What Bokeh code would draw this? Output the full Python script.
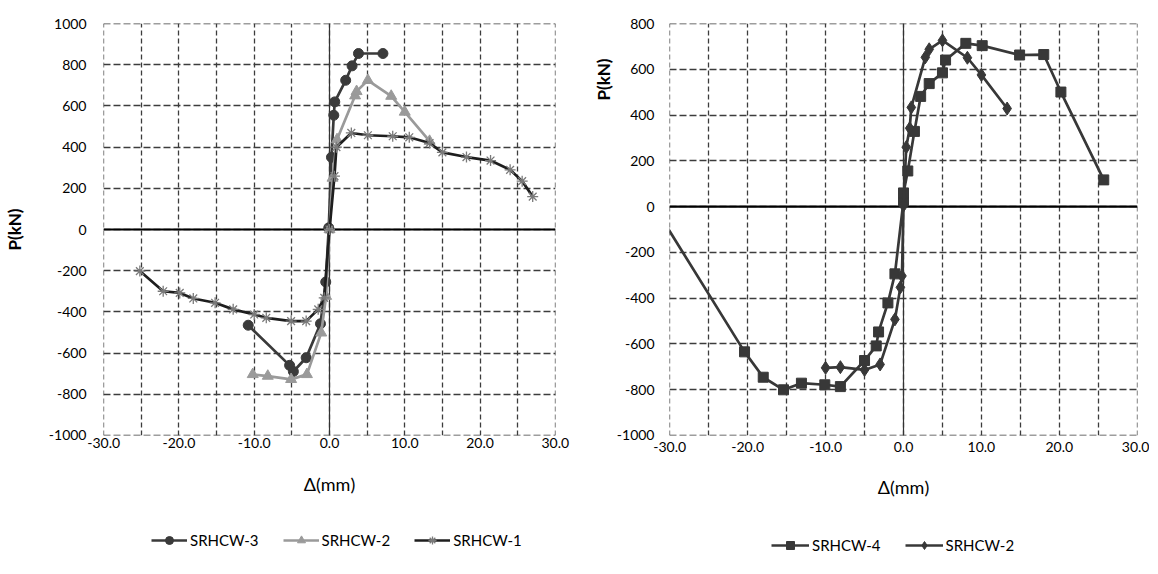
from bokeh.plotting import figure
from bokeh.layouts import row, column
from bokeh.models import FixedTicker, Span, Legend, LegendItem, Title, Range1d
from bokeh.embed import file_html
from bokeh.resources import INLINE

# ---------------- data ----------------
x_tick_values = [-30, -20, -10, 0, 10, 20, 30]
x_tick_labels = ["-30.0", "-20.0", "-10.0", "0.0", "10.0", "20.0", "30.0"]
x_grid_values = [-30, -25, -20, -15, -10, -5, 0, 5, 10, 15, 20, 25, 30]
left_y_ticks = [-1000, -800, -600, -400, -200, 0, 200, 400, 600, 800, 1000]
right_y_ticks = [-1000, -800, -600, -400, -200, 0, 200, 400, 600, 800]

# left chart
srhcw3_x = [-10.8, -5.3, -4.8, -3.1, -1.2, -0.5, -0.1, 0.26, 0.57, 0.7, 2.15, 3.0, 3.85, 7.1]
srhcw3_p = [-465, -660, -690, -623, -458, -255, 8, 351, 555, 620, 725, 795, 855, 855]

srhcw2a_x = [-10.2, -8.2, -5.1, -3.0, -1.1, -0.45, 0.0, 0.4, 1.0, 3.4, 3.6, 5.1, 8.2, 10.0, 13.3]
srhcw2a_p = [-704, -712, -728, -704, -502, -324, 0, 250, 437, 650, 671, 725, 648, 571, 429]

srhcw1_x = [-25.2, -22.1, -19.9, -18.1, -15.2, -12.8, -10.0, -8.4, -5.1, -3.1, -1.5, -0.7, 0.0,
            0.66, 0.92, 2.9, 5.1, 8.4, 10.6, 13.3, 15.0, 18.2, 21.4, 24.0, 25.6, 27.0]
srhcw1_p = [-202, -300, -308, -335, -356, -388, -413, -429, -445, -445, -388, -332, 0,
            259, 400, 469, 458, 453, 448, 420, 375, 352, 335, 290, 235, 160]

# right chart
srhcw4_x = [-32.0, -20.4, -18.0, -15.4, -13.1, -10.1, -8.1, -5.0, -3.5, -3.2, -2.0, -1.1, 0.0, 0.0,
            0.55, 1.4, 2.2, 3.3, 5.0, 5.4, 8.0, 10.1, 14.9, 18.0, 20.2, 25.7]
srhcw4_p = [2, -635, -746, -801, -772, -779, -787, -673, -609, -548, -421, -294, 25, 60,
            156, 329, 482, 538, 585, 641, 714, 704, 663, 665, 501, 117]

srhcw2b_x = [-10.0, -8.1, -5.0, -3.0, -1.1, -0.4, -0.2, 0.0, 0.35, 0.8, 1.0, 2.8, 3.3, 5.0, 8.2, 10.0, 13.3]
srhcw2b_p = [-705, -702, -714, -690, -493, -353, -303, 5, 260, 343, 434, 653, 688, 727, 651, 576, 429]

FONT = "Lato"
GRID = "#3c3c3c"
H_CHART = 505
H_LEG = 69

c3 = "#3a3a3a"
c2 = "#9a9a9a"
c1 = "#1e1e1e"
c1m = "#7a7a7a"
cr = "#383838"


def make(width, bl, br, ymin, ymax, yticks, ylab_std, xlab_std):
    p = figure(width=width, height=H_CHART,
               x_range=Range1d(-30.03, 30.03), y_range=Range1d(ymin - 0.8, ymax + 0.8),
               output_backend="svg", toolbar_location=None,
               min_border_left=bl, min_border_right=br, min_border_top=23, min_border_bottom=H_CHART - 435)
    p.outline_line_color = None
    p.xaxis.ticker = FixedTicker(ticks=x_tick_values)
    p.xaxis.major_label_overrides = {v: l for v, l in zip(x_tick_values, x_tick_labels)}
    p.yaxis.ticker = FixedTicker(ticks=yticks)
    p.yaxis.major_label_overrides = {v: str(v) for v in yticks}
    for ax in p.axis:
        ax.axis_line_color = None
        ax.major_tick_line_color = None
        ax.minor_tick_line_color = None
        ax.major_tick_out = 0
        ax.major_tick_in = 0
        ax.major_label_text_font = FONT
        ax.major_label_text_font_size = "14px"
        ax.major_label_text_color = "#000000"
        ax.axis_label_text_font = FONT
        ax.axis_label_text_color = "#000000"
    p.yaxis.major_label_standoff = ylab_std
    p.xaxis.major_label_standoff = xlab_std
    p.xgrid.ticker = FixedTicker(ticks=x_grid_values)
    p.ygrid.ticker = FixedTicker(ticks=yticks)
    p.xgrid.grid_line_color = GRID
    p.xgrid.grid_line_dash = "5 3"
    p.xgrid.grid_line_width = 1.3
    p.ygrid.grid_line_color = GRID
    p.ygrid.grid_line_dash = "7 3"
    p.ygrid.grid_line_width = 1.6
    p.add_layout(Span(location=0, dimension="width", line_color="#000000", line_width=2.2, level="underlay"))
    p.add_layout(Span(location=0, dimension="height", line_color="#333333", line_width=1.2, level="underlay"))
    p.xaxis.axis_label = "Δ(mm)"
    p.xaxis.axis_label_text_font_size = "18px"
    p.xaxis.axis_label_text_font_style = "normal"
    return p


def legend_fig(width, bl, br):
    q = figure(width=width, height=H_LEG, x_range=Range1d(1000, 1001), y_range=Range1d(5000, 5001),
               output_backend="svg", toolbar_location=None, x_axis_location=None, y_axis_location=None,
               min_border_left=bl, min_border_right=br, min_border_top=0, min_border_bottom=0)
    q.outline_line_color = None
    q.xgrid.visible = False
    q.ygrid.visible = False
    return q


def add_series(fig, xs, ps, color, marker, msize, mline=None, mfill=True):
    ln = fig.line(xs, ps, line_color=color, line_width=2.7)
    if mfill:
        mk = fig.scatter(xs, ps, marker=marker, size=msize, fill_color=color, line_color=color)
    else:
        mk = fig.scatter(xs, ps, marker=marker, size=msize, line_color=mline, line_width=1.3)
    return [ln, mk]


def legend(items, loc, gw):
    return Legend(items=items, orientation="horizontal", location=loc, padding=0, margin=0, spacing=24,
                  glyph_width=gw, glyph_height=20, label_standoff=3,
                  label_text_font=FONT, label_text_font_size="15px", label_text_color="#000000",
                  border_line_color=None, background_fill_alpha=0)


# ---------------- left chart ----------------
p1 = make(590, 101, 35, -1000, 1000, left_y_ticks, 17, 2)
p1.xaxis.axis_label_standoff = 22
p1.yaxis.axis_label = "P(kN)"
p1.yaxis.axis_label_text_font_size = "17px"
p1.yaxis.axis_label_text_font_style = "bold"
p1.yaxis.axis_label_standoff = 21

add_series(p1, srhcw3_x, srhcw3_p, c3, "circle", 10)
add_series(p1, srhcw2a_x, srhcw2a_p, c2, "triangle", 11)
add_series(p1, srhcw1_x, srhcw1_p, c1, "asterisk", 11, mline=c1m, mfill=False)

q1 = legend_fig(590, 101, 35)
r3 = add_series(q1, srhcw3_x, srhcw3_p, c3, "circle", 10)
r2 = add_series(q1, srhcw2a_x, srhcw2a_p, c2, "triangle", 11)
r1 = add_series(q1, srhcw1_x, srhcw1_p, c1, "asterisk", 11, mline=c1m, mfill=False)
q1.add_layout(legend([LegendItem(label="SRHCW-3", renderers=r3),
                      LegendItem(label="SRHCW-2", renderers=r2),
                      LegendItem(label="SRHCW-1", renderers=r1)], (48, 24), 36))

# ---------------- right chart ----------------
p2 = make(559, 75, 12, -1000, 800, right_y_ticks, 15, 6)
p2.xaxis.axis_label_standoff = 21
p2.add_layout(Title(text="P(kN)", align="right", offset=35, standoff=0,
                    text_font=FONT, text_font_size="17px", text_font_style="bold",
                    text_color="#000000"), "left")

add_series(p2, srhcw4_x, srhcw4_p, cr, "square", 10)
add_series(p2, srhcw2b_x, srhcw2b_p, cr, "diamond", 13)

q2 = legend_fig(559, 75, 12)
r4 = add_series(q2, srhcw4_x, srhcw4_p, cr, "square", 10)
r2b = add_series(q2, srhcw2b_x, srhcw2b_p, cr, "diamond", 13)
q2.add_layout(legend([LegendItem(label="SRHCW-4", renderers=r4),
                      LegendItem(label="SRHCW-2", renderers=r2b)], (102, 19), 38))

layout = row(column(p1, q1), column(p2, q2))
open("out.html", "w").write(file_html(layout, INLINE))
